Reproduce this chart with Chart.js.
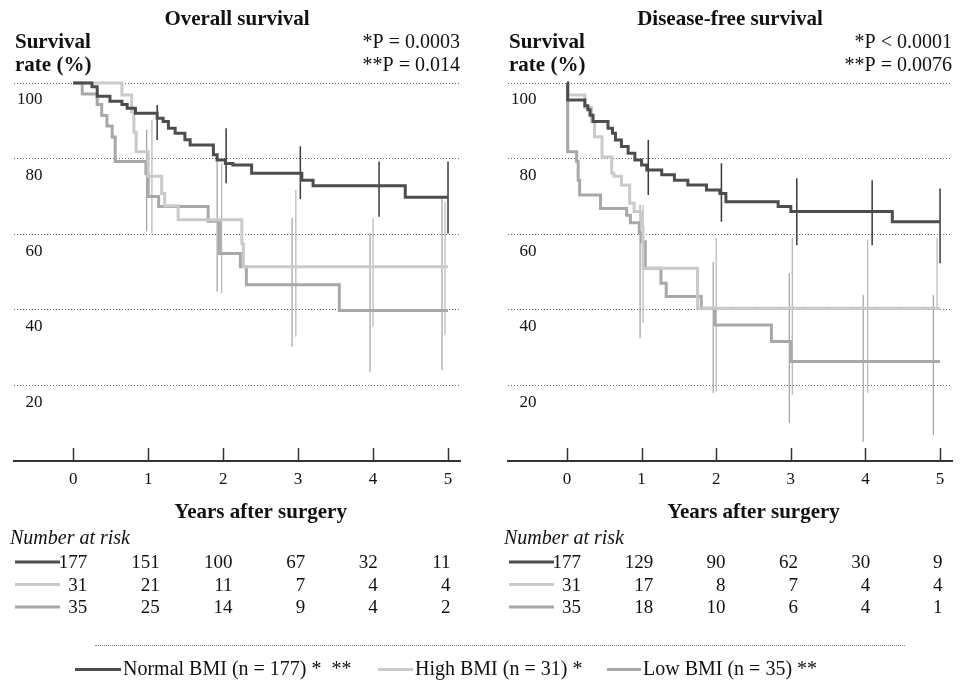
<!DOCTYPE html>
<html>
<head>
<meta charset="utf-8">
<script src="https://cdn.jsdelivr.net/npm/chart.js@4.4.1/dist/chart.umd.min.js"></script>
<style>
  body { margin: 0; background: #fff; width: 966px; height: 688px; position: relative; overflow: hidden;
         font-family: "Liberation Serif", "DejaVu Serif", serif; color: #111; }
  .panel { position: absolute; top: 0; width: 483px; height: 688px; }
  #sep { position: absolute; left: 95px; top: 645px; width: 810px; border-top: 1px dotted #777; }
  .lg { position: absolute; top: 656px; font-size: 20px; line-height: 24px; white-space: pre; }
  .sw { display: inline-block; height: 3px; vertical-align: middle; margin-right: 2px; position: relative; top: -1px; }
</style>
</head>
<body>
<div class="panel" style="left:0"><canvas id="os" width="483" height="688"></canvas></div>
<div class="panel" style="left:483px"><canvas id="dfs" width="483" height="688"></canvas></div>
<div id="sep"></div>
<div class="lg" style="left:75px"><span class="sw" style="width:46px;background:#4d4d4d"></span>Normal BMI (n = 177) *  **</div>
<div class="lg" style="left:378px"><span class="sw" style="width:35px;background:#cacaca"></span>High BMI (n = 31) *</div>
<div class="lg" style="left:607px"><span class="sw" style="width:34px;background:#a8a8a8"></span>Low BMI (n = 35) **</div>
<script>
// ticks / risk table columns
const years = [0, 1, 2, 3, 4, 5];
const rateTicks = [20, 40, 60, 80, 100];

// Overall survival - step times (years) and survival (%)
const osNormalT = [0, 0.25, 0.32, 0.49, 0.65, 0.72, 0.83, 1.12, 1.2, 1.27, 1.36, 1.49, 1.56, 1.87, 1.92, 2.03, 2.13, 2.38, 3.05, 3.2, 4.43, 5.0];
const osNormalS = [100, 99, 96.5, 95.2, 94.3, 93.3, 92, 90.7, 89.8, 88, 86.7, 85, 83.6, 81, 79.6, 78.7, 78.3, 76.1, 74.3, 72.8, 69.8, 69.8];
const osHighT = [0, 0.65, 0.78, 0.81, 0.84, 1.0, 1.18, 1.22, 1.4, 2.25, 2.27, 5.0];
const osHighS = [100, 96.8, 92.4, 87, 81.8, 75.3, 70.8, 67.5, 63.8, 57.5, 51.4, 51.4];
const osLowT = [0, 0.12, 0.32, 0.38, 0.45, 0.52, 0.56, 0.97, 1.0, 1.14, 1.8, 1.95, 2.23, 2.31, 3.55, 5.0];
const osLowS = [100, 97.1, 94.3, 91.4, 88.6, 85.7, 79.2, 76, 70, 67.3, 63.4, 54.9, 51.4, 46.6, 39.8, 39.8];

// Overall survival - confidence interval bars
const osNormalCiX = [1.12, 2.04, 3.03, 4.08, 5.0];
const osNormalCiHi = [94.2, 88, 83.3, 79.2, 79.2];
const osNormalCiLo = [84.9, 73.5, 69.3, 64.6, 60.2];
const osHighCiX = [1.05, 1.98, 2.97, 4.0, 4.96];
const osHighCiHi = [90.2, 78.8, 71.7, 64.3, 68.6];
const osHighCiLo = [60.3, 44.4, 32.9, 35.5, 33.3];
const osLowCiX = [0.98, 1.92, 2.92, 3.96, 4.92];
const osLowCiHi = [87.6, 79.2, 64.3, 60.3, 70];
const osLowCiLo = [60.7, 44.8, 30.2, 23.6, 24];

// Disease-free survival - step times (years) and survival (%)
const dfsNormalT = [0, 0.01, 0.24, 0.28, 0.31, 0.35, 0.55, 0.61, 0.65, 0.73, 0.82, 0.91, 1.0, 1.07, 1.27, 1.44, 1.62, 1.87, 2.05, 2.13, 2.83, 3.0, 4.36, 5.0];
const dfsNormalS = [100, 95.5, 94, 92.9, 91.5, 89.8, 88, 86.7, 84.9, 83.2, 81.4, 79.6, 78.3, 77, 75.7, 74.3, 73, 71.7, 70.8, 68.6, 67.3, 66, 63.3, 63.3];
const dfsHighT = [0, 0.01, 0.24, 0.33, 0.37, 0.47, 0.6, 0.63, 0.73, 0.84, 0.9, 1.0, 1.02, 1.75, 5.0];
const dfsHighS = [100, 96.8, 93.5, 89.8, 85.8, 80.4, 76.1, 75.3, 73, 68.2, 66, 62, 51, 40.4, 40.4];
const dfsLowT = [0, 0.01, 0.13, 0.15, 0.17, 0.45, 0.8, 0.85, 0.97, 1.0, 1.05, 1.26, 1.33, 1.8, 1.98, 2.74, 3.0, 5.0];
const dfsLowS = [100, 81.8, 79.2, 74.3, 70.4, 66.8, 65, 63, 60.3, 58, 51, 47, 43.5, 40.4, 36, 31.6, 26.3, 26.3];

// Disease-free survival - confidence interval bars
const dfsNormalCiX = [1.09, 2.07, 3.08, 4.09, 5.0];
const dfsNormalCiHi = [84.9, 78.8, 74.8, 74.3, 72.1];
const dfsNormalCiLo = [70.4, 63.3, 57.1, 57.1, 52.3];
const dfsHighCiX = [1.02, 2.0, 3.02, 4.03, 4.96];
const dfsHighCiHi = [67.7, 59, 59, 58.5, 59];
const dfsHighCiLo = [36.5, 18.3, 17.5, 18, 40];
const dfsLowCiX = [0.98, 1.96, 2.98, 3.97, 4.91];
const dfsLowCiHi = [67.7, 52.7, 49.7, 43.9, 43.9];
const dfsLowCiLo = [32.5, 18, 10, 5.1, 6.9];

// number at risk
const osRiskNormal = [177, 151, 100, 67, 32, 11];
const osRiskHigh = [31, 21, 11, 7, 4, 4];
const osRiskLow = [35, 25, 14, 9, 4, 2];
const dfsRiskNormal = [177, 129, 90, 62, 30, 9];
const dfsRiskHigh = [31, 17, 8, 7, 4, 4];
const dfsRiskLow = [35, 18, 10, 6, 4, 1];

const colors = ['#4d4d4d', '#cacaca', '#a8a8a8'];
const serif = '"Liberation Serif", "DejaVu Serif", serif';

function curve(t, s, color) {
    return {
        data: t.map((v, i) => ({x: v, y: s[i]})),
        stepped: 'before',
        borderColor: color,
        borderWidth: 3,
        pointRadius: 0,
        clip: 6
    };
}

function ciBars(xs, hi, lo, color, width) {
    const pts = [];
    xs.forEach((v, i) => {
        pts.push({x: v, y: hi[i]}, {x: v, y: lo[i]}, {x: v, y: null});
    });
    return {
        data: pts,
        borderColor: color,
        borderWidth: width,
        pointRadius: 0,
        spanGaps: false,
        clip: 20
    };
}

const panelText = {
    id: 'panelText',
    afterDraw(chart, args, o) {
        const ctx = chart.ctx, a = chart.chartArea, x = chart.scales.x;
        ctx.save();
        // tick marks pointing up into the plot
        ctx.strokeStyle = '#333';
        ctx.lineWidth = 1.5;
        years.forEach(v => {
            const px = Math.round(x.getPixelForValue(v)) + 0.5;
            ctx.beginPath();
            ctx.moveTo(px, a.bottom);
            ctx.lineTo(px, a.bottom - 13);
            ctx.stroke();
        });
        ctx.fillStyle = '#111';
        ctx.textBaseline = 'alphabetic';
        ctx.font = 'bold 21px ' + serif;
        ctx.textAlign = 'center';
        ctx.fillText(o.title, (a.left + a.right) / 2, 25);
        ctx.textAlign = 'left';
        ctx.fillText('Survival', a.left + 1, 48);
        ctx.fillText('rate (%)', a.left + 1, 71);
        ctx.font = '20px ' + serif;
        ctx.textAlign = 'right';
        ctx.fillText(o.p1, a.right, 48);
        ctx.fillText(o.p2, a.right, 71);
        ctx.font = 'bold 21px ' + serif;
        ctx.textAlign = 'center';
        ctx.fillText('Years after surgery', x.getPixelForValue(2.5), 518);
        ctx.font = 'italic 20px ' + serif;
        ctx.textAlign = 'left';
        ctx.fillText('Number at risk', a.left - 4, 544);
        ctx.font = '19px ' + serif;
        ctx.textAlign = 'right';
        o.risk.forEach((row, r) => {
            const y = 562 + r * 22.5;
            ctx.strokeStyle = colors[r];
            ctx.lineWidth = 3;
            ctx.beginPath();
            ctx.moveTo(a.left + 1, y);
            ctx.lineTo(a.left + 46, y);
            ctx.stroke();
            row.forEach((n, i) => {
                ctx.fillText(String(n), x.getPixelForValue(years[i]) + 14 - 2.3 * i, y + 6);
            });
        });
        ctx.restore();
    }
};

function makePanel(id, datasets, text, padLeft, padRight) {
    return new Chart(document.getElementById(id), {
        type: 'line',
        data: {datasets: datasets},
        plugins: [panelText],
        options: {
            responsive: false,
            animation: false,
            layout: {padding: {left: padLeft, right: padRight, top: 83, bottom: 197}},
            plugins: {legend: {display: false}, tooltip: {enabled: false}, panelText: text},
            scales: {
                x: {
                    type: 'linear',
                    min: -0.79,
                    max: 5.16,
                    afterBuildTicks: s => { s.ticks = years.map(v => ({value: v})); },
                    afterFit: s => { s.height = 30; },
                    grid: {display: false, drawTicks: false},
                    border: {display: true, color: '#333', width: 2},
                    ticks: {color: '#111', padding: 8, autoSkip: false, maxRotation: 0,
                            font: {family: serif, size: 17}}
                },
                y: {
                    min: 0,
                    max: 100,
                    afterBuildTicks: s => { s.ticks = rateTicks.map(v => ({value: v})); },
                    afterFit: s => { s.width = 0; },
                    grid: {color: '#666', lineWidth: 1, drawTicks: false},
                    border: {display: false, dash: [1, 2]},
                    ticks: {mirror: true, crossAlign: 'far', padding: 3, labelOffset: 17, color: '#111',
                            font: {family: serif, size: 17}}
                }
            }
        }
    });
}

makePanel('os', [
    curve(osNormalT, osNormalS, colors[0]),
    curve(osHighT, osHighS, colors[1]),
    curve(osLowT, osLowS, colors[2]),
    ciBars(osNormalCiX, osNormalCiHi, osNormalCiLo, '#3a3a3a', 1.5),
    ciBars(osHighCiX, osHighCiHi, osHighCiLo, '#b5b5b5', 1.2),
    ciBars(osLowCiX, osLowCiHi, osLowCiLo, '#a0a0a0', 1.2)
], {title: 'Overall survival', p1: '*P = 0.0003', p2: '**P = 0.014',
    risk: [osRiskNormal, osRiskHigh, osRiskLow]}, 14, 23);

makePanel('dfs', [
    curve(dfsNormalT, dfsNormalS, colors[0]),
    curve(dfsHighT, dfsHighS, colors[1]),
    curve(dfsLowT, dfsLowS, colors[2]),
    ciBars(dfsNormalCiX, dfsNormalCiHi, dfsNormalCiLo, '#3a3a3a', 1.5),
    ciBars(dfsHighCiX, dfsHighCiHi, dfsHighCiLo, '#b5b5b5', 1.2),
    ciBars(dfsLowCiX, dfsLowCiHi, dfsLowCiLo, '#a0a0a0', 1.2)
], {title: 'Disease-free survival', p1: '*P < 0.0001', p2: '**P = 0.0076',
    risk: [dfsRiskNormal, dfsRiskHigh, dfsRiskLow]}, 25, 14);
</script>
</body>
</html>
